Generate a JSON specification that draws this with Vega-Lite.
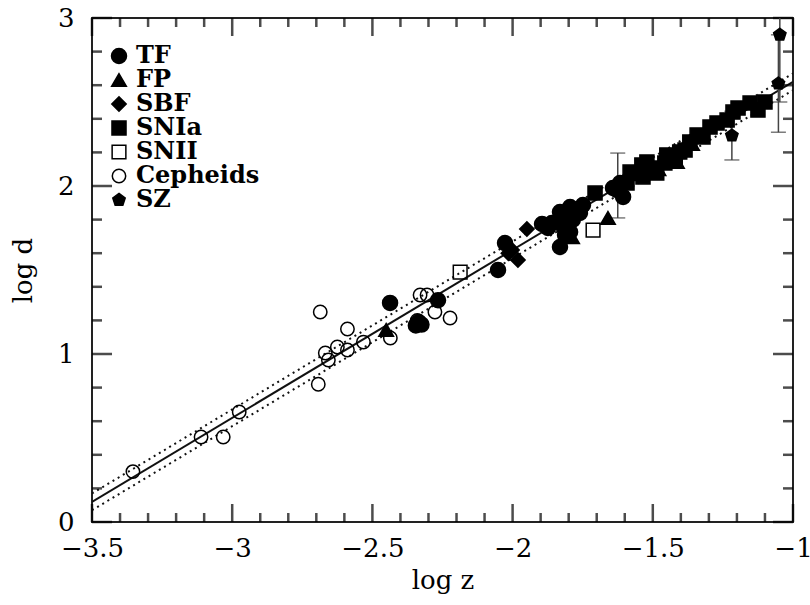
{
  "$schema": "https://vega.github.io/schema/vega-lite/v6.json",
  "width": 701,
  "height": 504,
  "autosize": "none",
  "padding": {"left": 92, "top": 18, "right": 17, "bottom": 83},
  "background": "white",
  "config": {
    "view": {"stroke": "#222", "strokeWidth": 2},
    "axis": {"domain": false, "grid": false, "ticks": false, "tickSize": 0, "labelColor": "black", "titleColor": "black", "labelFont": "DejaVu Serif", "titleFont": "DejaVu Serif", "labelFontSize": 26, "titleFontSize": 26, "titleFontWeight": "normal", "labelFlush": false, "labelOverlap": false, "labelBound": false},
    "legend": {"orient": "none", "legendX": 15, "legendY": 26, "padding": 0, "labelFont": "DejaVu Serif", "labelFontWeight": "bold", "labelFontSize": 24, "labelColor": "black", "symbolStrokeWidth": 1.5, "rowPadding": 0, "labelOffset": 5, "titleFontSize": 0}
  },
  "datasets": {
    "xt": [
      {"v": -3.5, "kind": "major"}, {"v": -3.4, "kind": "minor"}, {"v": -3.3, "kind": "minor"}, {"v": -3.2, "kind": "minor"}, {"v": -3.1, "kind": "minor"},
      {"v": -3.0, "kind": "major"}, {"v": -2.9, "kind": "minor"}, {"v": -2.8, "kind": "minor"}, {"v": -2.7, "kind": "minor"}, {"v": -2.6, "kind": "minor"},
      {"v": -2.5, "kind": "major"}, {"v": -2.4, "kind": "minor"}, {"v": -2.3, "kind": "minor"}, {"v": -2.2, "kind": "minor"}, {"v": -2.1, "kind": "minor"},
      {"v": -2.0, "kind": "major"}, {"v": -1.9, "kind": "minor"}, {"v": -1.8, "kind": "minor"}, {"v": -1.7, "kind": "minor"}, {"v": -1.6, "kind": "minor"},
      {"v": -1.5, "kind": "major"}, {"v": -1.4, "kind": "minor"}, {"v": -1.3, "kind": "minor"}, {"v": -1.2, "kind": "minor"}, {"v": -1.1, "kind": "minor"},
      {"v": -1.0, "kind": "major"}
    ],
    "yt": [
      {"v": 0, "kind": "major"}, {"v": 0.2, "kind": "minor"}, {"v": 0.4, "kind": "minor"}, {"v": 0.6, "kind": "minor"}, {"v": 0.8, "kind": "minor"},
      {"v": 1, "kind": "major"}, {"v": 1.2, "kind": "minor"}, {"v": 1.4, "kind": "minor"}, {"v": 1.6, "kind": "minor"}, {"v": 1.8, "kind": "minor"},
      {"v": 2, "kind": "major"}, {"v": 2.2, "kind": "minor"}, {"v": 2.4, "kind": "minor"}, {"v": 2.6, "kind": "minor"}, {"v": 2.8, "kind": "minor"},
      {"v": 3, "kind": "major"}
    ],
    "lines": [
      {"line": "fit", "x": -3.5, "y": 0.12}, {"line": "fit", "x": -1, "y": 2.62},
      {"line": "hi", "x": -3.5, "y": 0.17}, {"line": "hi", "x": -1, "y": 2.67},
      {"line": "lo", "x": -3.5, "y": 0.07}, {"line": "lo", "x": -1, "y": 2.57}
    ],
    "errs": [
      {"x": -1.625, "lo": 1.81, "hi": 2.196},
      {"x": -1.218, "lo": 2.155, "hi": 2.445},
      {"x": -1.052, "lo": 2.32, "hi": 2.9},
      {"x": -1.047, "lo": 2.5, "hi": 3.3}
    ],
    "pts": [
      {"type": "Cepheids", "x": -3.354, "y": 0.3},
      {"type": "Cepheids", "x": -3.111, "y": 0.506},
      {"type": "Cepheids", "x": -3.032, "y": 0.506},
      {"type": "Cepheids", "x": -2.975, "y": 0.655},
      {"type": "Cepheids", "x": -2.686, "y": 1.25},
      {"type": "Cepheids", "x": -2.693, "y": 0.82},
      {"type": "Cepheids", "x": -2.668, "y": 1.006},
      {"type": "Cepheids", "x": -2.657, "y": 0.964},
      {"type": "Cepheids", "x": -2.625, "y": 1.042},
      {"type": "Cepheids", "x": -2.589, "y": 1.149},
      {"type": "Cepheids", "x": -2.589, "y": 1.024},
      {"type": "Cepheids", "x": -2.532, "y": 1.071},
      {"type": "Cepheids", "x": -2.436, "y": 1.095},
      {"type": "Cepheids", "x": -2.33, "y": 1.351},
      {"type": "Cepheids", "x": -2.305, "y": 1.351},
      {"type": "Cepheids", "x": -2.277, "y": 1.25},
      {"type": "Cepheids", "x": -2.223, "y": 1.214},
      {"type": "Cepheids", "x": -2.34, "y": 1.2},
      {"type": "SNII", "x": -2.187, "y": 1.488},
      {"type": "SNII", "x": -1.713, "y": 1.738},
      {"type": "FP", "x": -2.451, "y": 1.143},
      {"type": "FP", "x": -1.788, "y": 1.696},
      {"type": "FP", "x": -1.66, "y": 1.81},
      {"type": "FP", "x": -1.414, "y": 2.143},
      {"type": "FP", "x": -1.55, "y": 2.07},
      {"type": "FP", "x": -1.36, "y": 2.25},
      {"type": "FP", "x": -1.48, "y": 2.1},
      {"type": "SBF", "x": -2.002, "y": 1.619},
      {"type": "SBF", "x": -1.981, "y": 1.56},
      {"type": "SBF", "x": -1.949, "y": 1.744},
      {"type": "SBF", "x": -2.015, "y": 1.6},
      {"type": "SBF", "x": -1.8, "y": 1.73},
      {"type": "TF", "x": -2.437, "y": 1.304},
      {"type": "TF", "x": -2.335, "y": 1.19},
      {"type": "TF", "x": -2.345, "y": 1.17},
      {"type": "TF", "x": -2.325, "y": 1.175},
      {"type": "TF", "x": -2.266, "y": 1.32},
      {"type": "TF", "x": -2.052, "y": 1.5},
      {"type": "TF", "x": -2.027, "y": 1.66},
      {"type": "TF", "x": -1.895, "y": 1.774},
      {"type": "TF", "x": -1.874, "y": 1.75},
      {"type": "TF", "x": -1.831, "y": 1.845},
      {"type": "TF", "x": -1.831, "y": 1.637},
      {"type": "TF", "x": -1.795, "y": 1.875},
      {"type": "TF", "x": -1.785, "y": 1.8},
      {"type": "TF", "x": -1.76, "y": 1.84},
      {"type": "TF", "x": -1.749, "y": 1.887},
      {"type": "TF", "x": -1.795, "y": 1.726},
      {"type": "TF", "x": -1.813, "y": 1.708},
      {"type": "TF", "x": -1.86, "y": 1.78},
      {"type": "TF", "x": -1.82, "y": 1.76},
      {"type": "TF", "x": -1.628, "y": 1.976},
      {"type": "TF", "x": -1.606, "y": 1.935},
      {"type": "TF", "x": -1.617, "y": 2.018},
      {"type": "TF", "x": -1.642, "y": 1.988},
      {"type": "SNIa", "x": -1.706, "y": 1.958},
      {"type": "SNIa", "x": -1.592, "y": 2.018},
      {"type": "SNIa", "x": -1.581, "y": 2.083},
      {"type": "SNIa", "x": -1.539, "y": 2.125},
      {"type": "SNIa", "x": -1.535, "y": 2.054},
      {"type": "SNIa", "x": -1.521, "y": 2.143},
      {"type": "SNIa", "x": -1.5, "y": 2.107},
      {"type": "SNIa", "x": -1.486, "y": 2.077},
      {"type": "SNIa", "x": -1.45, "y": 2.185},
      {"type": "SNIa", "x": -1.457, "y": 2.137},
      {"type": "SNIa", "x": -1.42, "y": 2.17},
      {"type": "SNIa", "x": -1.404, "y": 2.202},
      {"type": "SNIa", "x": -1.385, "y": 2.214},
      {"type": "SNIa", "x": -1.368, "y": 2.262},
      {"type": "SNIa", "x": -1.342, "y": 2.304},
      {"type": "SNIa", "x": -1.321, "y": 2.292},
      {"type": "SNIa", "x": -1.296, "y": 2.351},
      {"type": "SNIa", "x": -1.271, "y": 2.375},
      {"type": "SNIa", "x": -1.235, "y": 2.393},
      {"type": "SNIa", "x": -1.214, "y": 2.44},
      {"type": "SNIa", "x": -1.196, "y": 2.464},
      {"type": "SNIa", "x": -1.153, "y": 2.494},
      {"type": "SNIa", "x": -1.125, "y": 2.452},
      {"type": "SNIa", "x": -1.1, "y": 2.5},
      {"type": "SZ", "x": -1.625, "y": 2.0},
      {"type": "SZ", "x": -1.218, "y": 2.3},
      {"type": "SZ", "x": -1.052, "y": 2.61},
      {"type": "SZ", "x": -1.047, "y": 2.9}
    ]
  },
  "resolve": {"axis": {"x": "independent", "y": "independent"}},
  "layer": [
    {
      "data": {"name": "lines"},
      "transform": [{"filter": "datum.line == 'fit'"}],
      "mark": {"type": "line", "color": "#111", "strokeWidth": 2, "clip": true},
      "encoding": {
        "x": {"field": "x", "type": "quantitative", "scale": {"domain": [-3.5, -1], "nice": false, "zero": false}, "axis": null},
        "y": {"field": "y", "type": "quantitative", "scale": {"domain": [0, 3], "nice": false, "zero": false}, "axis": null}
      }
    },
    {
      "data": {"name": "lines"},
      "transform": [{"filter": "datum.line != 'fit'"}],
      "mark": {"type": "line", "color": "#111", "strokeWidth": 2, "strokeDash": [2, 4], "clip": true},
      "encoding": {
        "x": {"field": "x", "type": "quantitative", "axis": null},
        "y": {"field": "y", "type": "quantitative", "axis": null},
        "detail": {"field": "line"}
      }
    },
    {
      "data": {"name": "xt"},
      "transform": [{"filter": "datum.kind == 'major'"}],
      "mark": {"type": "tick", "orient": "vertical", "color": "black", "size": 18, "thickness": 2.5},
      "encoding": {
        "x": {"field": "v", "type": "quantitative", "axis": null},
        "y": {"datum": 0.0536, "type": "quantitative", "axis": null}
      }
    },
    {
      "data": {"name": "xt"},
      "transform": [{"filter": "datum.kind == 'minor'"}],
      "mark": {"type": "tick", "orient": "vertical", "color": "black", "size": 9, "thickness": 2.5},
      "encoding": {
        "x": {"field": "v", "type": "quantitative", "axis": null},
        "y": {"datum": 0.0268, "type": "quantitative", "axis": null}
      }
    },
    {
      "data": {"name": "xt"},
      "transform": [{"filter": "datum.kind == 'major'"}],
      "mark": {"type": "tick", "orient": "vertical", "color": "black", "size": 18, "thickness": 2.5},
      "encoding": {
        "x": {"field": "v", "type": "quantitative", "axis": null},
        "y": {"datum": 2.9464, "type": "quantitative", "axis": null}
      }
    },
    {
      "data": {"name": "xt"},
      "transform": [{"filter": "datum.kind == 'minor'"}],
      "mark": {"type": "tick", "orient": "vertical", "color": "black", "size": 9, "thickness": 2.5},
      "encoding": {
        "x": {"field": "v", "type": "quantitative", "axis": null},
        "y": {"datum": 2.9732, "type": "quantitative", "axis": null}
      }
    },
    {
      "data": {"name": "yt"},
      "transform": [{"filter": "datum.kind == 'major'"}],
      "mark": {"type": "tick", "orient": "horizontal", "color": "black", "size": 20, "thickness": 2.5},
      "encoding": {
        "y": {"field": "v", "type": "quantitative", "axis": null},
        "x": {"datum": -3.4643, "type": "quantitative", "axis": null}
      }
    },
    {
      "data": {"name": "yt"},
      "transform": [{"filter": "datum.kind == 'minor'"}],
      "mark": {"type": "tick", "orient": "horizontal", "color": "black", "size": 10, "thickness": 2.5},
      "encoding": {
        "y": {"field": "v", "type": "quantitative", "axis": null},
        "x": {"datum": -3.4822, "type": "quantitative", "axis": null}
      }
    },
    {
      "data": {"name": "yt"},
      "transform": [{"filter": "datum.kind == 'major'"}],
      "mark": {"type": "tick", "orient": "horizontal", "color": "black", "size": 20, "thickness": 2.5},
      "encoding": {
        "y": {"field": "v", "type": "quantitative", "axis": null},
        "x": {"datum": -1.0357, "type": "quantitative", "axis": null}
      }
    },
    {
      "data": {"name": "yt"},
      "transform": [{"filter": "datum.kind == 'minor'"}],
      "mark": {"type": "tick", "orient": "horizontal", "color": "black", "size": 10, "thickness": 2.5},
      "encoding": {
        "y": {"field": "v", "type": "quantitative", "axis": null},
        "x": {"datum": -1.0178, "type": "quantitative", "axis": null}
      }
    },
    {
      "data": {"name": "errs"},
      "mark": {"type": "rule", "color": "#444", "strokeWidth": 1.5, "clip": true},
      "encoding": {
        "x": {"field": "x", "type": "quantitative", "axis": null},
        "y": {"field": "lo", "type": "quantitative", "axis": null},
        "y2": {"field": "hi"}
      }
    },
    {
      "data": {"name": "errs"},
      "transform": [{"fold": ["lo", "hi"], "as": ["end", "yv"]}],
      "mark": {"type": "tick", "orient": "horizontal", "color": "#444", "size": 15, "thickness": 1.5, "clip": true},
      "encoding": {
        "x": {"field": "x", "type": "quantitative", "axis": null},
        "y": {"field": "yv", "type": "quantitative", "axis": null}
      }
    },
    {
      "data": {"name": "pts"},
      "mark": {"type": "point", "strokeWidth": 1.5, "opacity": 1},
      "encoding": {
        "x": {"field": "x", "type": "quantitative",
          "axis": {"orient": "bottom", "title": "log z", "format": "~g",
            "values": [-3.5,-3,-2.5,-2,-1.5,-1],
            "labelPadding": 13, "titlePadding": 6}},
        "y": {"field": "y", "type": "quantitative",
          "axis": {"orient": "left", "title": "log d", "format": "~g",
            "values": [0,1,2,3],
            "labelPadding": 18, "titlePadding": 21}},
        "shape": {"field": "type", "type": "nominal", "title": null,
          "scale": {"domain": ["TF", "FP", "SBF", "SNIa", "SNII", "Cepheids", "SZ"],
            "range": ["circle", "triangle-up", "diamond", "square", "square", "circle", "M0,-1L0.951,-0.309L0.588,0.809L-0.588,0.809L-0.951,-0.309Z"]}},
        "fill": {"field": "type", "type": "nominal", "title": null,
          "scale": {"domain": ["TF", "FP", "SBF", "SNIa", "SNII", "Cepheids", "SZ"],
            "range": ["black", "black", "black", "black", "transparent", "transparent", "black"]}},
        "stroke": {"field": "type", "type": "nominal", "title": null,
          "scale": {"domain": ["TF", "FP", "SBF", "SNIa", "SNII", "Cepheids", "SZ"],
            "range": ["black", "black", "black", "black", "black", "black", "black"]}},
        "size": {"field": "type", "type": "nominal", "title": null,
          "scale": {"domain": ["TF", "FP", "SBF", "SNIa", "SNII", "Cepheids", "SZ"],
            "range": [225, 170, 230, 144, 100, 225, 225]}}
      }
    }
  ]
}
